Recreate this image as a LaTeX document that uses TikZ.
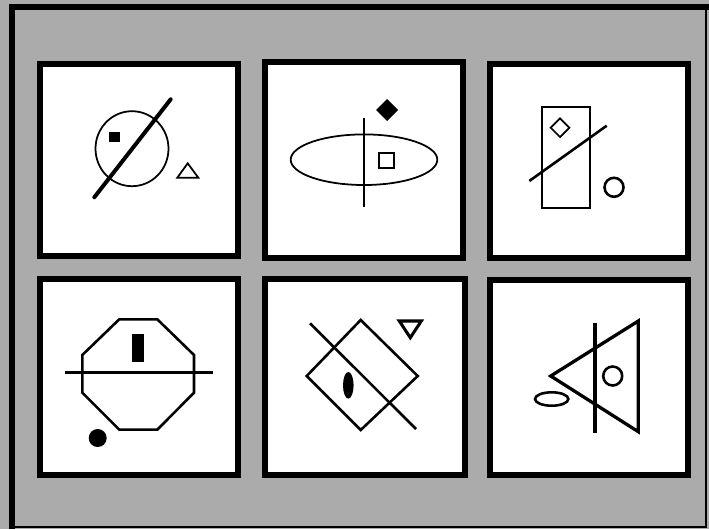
\documentclass[tikz,border=0pt]{standalone}
\begin{document}
\begin{tikzpicture}[x=0.03cm,y=-0.03cm,
  panel/.style={draw=black,fill=white,line width=5.5pt},
  thin/.style={draw=black,line width=1.5pt},
  mid/.style={draw=black,line width=2.2pt},
  thick/.style={draw=black,line width=3.4pt,line cap=round},
  solid/.style={fill=black}]
\useasboundingbox (0,0) rectangle (709,529);
% background
\fill[black!33] (0,0) rectangle (709,529);
\draw[black,line width=5pt] (12,529) -- (12,7) -- (709,7);
\draw[black,line width=1.2pt] (12,527) -- (706,527) -- (706,7);
% panels
\path[panel] (40,64) rectangle (238,256);
\path[panel] (265,62) rectangle (463,258);
\path[panel] (490,64) rectangle (688,258);
\path[panel] (40,279) rectangle (238,475);
\path[panel] (265,279) rectangle (465,475);
\path[panel] (490,280) rectangle (688,475);
% panel 1
\draw[thin] (132,148.7) ellipse [x radius=36.5, y radius=37.5];
\draw[thick] (94.3,197.3) -- (170.7,99.3);
\fill[solid] (109.3,131.7) rectangle (120,142.3);
\draw[thin,line join=miter] (187.7,163.3) -- (177.3,177.7) -- (198.3,177.7) -- cycle;
% panel 2
\draw[thin] (364,159.7) ellipse [x radius=73.3, y radius=25.3];
\draw[thin] (364.3,117.7) -- (364.3,207.3);
\draw[thin] (379.3,152.7) rectangle (394.3,168.3);
\fill[solid] (387,99) -- (398,110) -- (387,121) -- (376,110) -- cycle;
% panel 3
\draw[thin] (541.7,107.3) rectangle (590,207.7);
\draw[thin] (560,118.4) -- (569.3,127.7) -- (560,137) -- (550.7,127.7) -- cycle;
\draw[mid] (529.3,181) -- (606.7,125.7);
\draw[mid] (614,187.3) circle [radius=9.5];
% panel 4
\draw[mid] (119.3,319.3) -- (157.3,319.3) -- (194,355) -- (194,392.7) -- (157.3,429.7) -- (119.3,429.7) -- (82.3,392.7) -- (82.3,355) -- cycle;
\draw[mid] (65,372.3) -- (212.7,372.3);
\fill[solid] (132.3,334.3) rectangle (144.3,361.7);
\fill[solid] (97.7,438) circle [radius=9];
% panel 5
\draw[mid] (360.7,320) -- (417.7,376) -- (360.7,430) -- (306.7,376) -- cycle;
\draw[mid] (310,323.3) -- (416,429);
\fill[solid] (348.3,385.3) ellipse [x radius=5.3, y radius=13.3];
\draw[mid,line width=2.6pt] (399.3,321) -- (421.3,321) -- (410.3,337.7) -- cycle;
% panel 6
\draw[draw=black,line width=2.8pt,line join=miter] (638.3,321) -- (550.7,376) -- (638.3,431.7) -- cycle;
\draw[draw=black,line width=2.8pt] (595,323.3) -- (595,432.7);
\draw[mid] (612.7,376) circle [radius=9.5];
\draw[mid] (551.7,399) ellipse [x radius=16.7, y radius=6.7];
\end{tikzpicture}
\end{document}
